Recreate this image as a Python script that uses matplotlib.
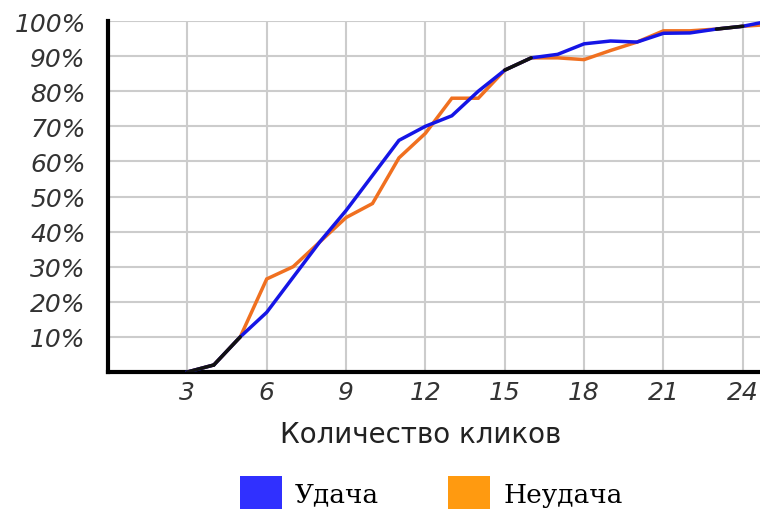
import matplotlib.pyplot as plt
from matplotlib.patches import Patch

clicks = list(range(3, 26))
success = [0, 2, 10, 17, 27, 37, 46, 56, 66, 70, 73, 80, 86, 89.5, 90.5, 93.5, 94.3, 94, 96.5, 96.6, 97.7, 98.5, 100]
failure = [0, 2, 10, 26.5, 30, 37, 44, 48, 61, 68, 78, 78, 86, 89.5, 89.5, 89, 91.6, 94, 97.2, 97.2, 97.7, 98.5, 99]
labels = ['Удача', 'Неудача']
x_ticks = [3, 6, 9, 12, 15, 18, 21, 24]
y_ticks = [10, 20, 30, 40, 50, 60, 70, 80, 90, 100]

fig = plt.figure(figsize=(7.6, 5.1), dpi=100)
ax = fig.add_axes([108 / 760, 137 / 510, 652 / 760, 351 / 510])

ax.plot(clicks, success, color='#1515e6', lw=2.5, solid_joinstyle='miter', zorder=3)
ax.plot(clicks, failure, color='#f07020', lw=2.5, solid_joinstyle='miter', zorder=2)

# where both curves coincide the original shows a dark line
for i in range(len(clicks) - 1):
    if abs(success[i] - failure[i]) < 0.3 and abs(success[i + 1] - failure[i + 1]) < 0.3:
        ax.plot(clicks[i:i + 2], success[i:i + 2], color='#111111', lw=2.5,
                solid_capstyle='round', zorder=4)

ax.set_xlim(0, 24.65)
ax.set_ylim(0, 100)
ax.set_xticks(x_ticks)
ax.set_yticks(y_ticks)
ax.set_yticklabels([f'{v}%' for v in y_ticks])
ax.grid(True, color='#cccccc', lw=1.5)
ax.set_axisbelow(True)
ax.tick_params(length=0, labelsize=18, colors='#333333')
ax.tick_params(axis='y', pad=16)
ax.tick_params(axis='x', pad=6)
for lab in ax.get_xticklabels() + ax.get_yticklabels():
    lab.set_fontstyle('italic')

for side in ['top', 'right']:
    ax.spines[side].set_visible(False)
for side in ['left', 'bottom']:
    ax.spines[side].set_linewidth(3)
    ax.spines[side].set_color('black')

fig.text(421 / 760, 1 - 435 / 510, 'Количество кликов', fontsize=20,
         color='#222222', ha='center', va='center')

handles = [Patch(facecolor='#3030ff', edgecolor='none'),
           Patch(facecolor='#ff9a10', edgecolor='none')]
fig.legend(handles, labels, loc='center', bbox_to_anchor=(431 / 760, 1 - 494 / 510),
           ncol=2, frameon=False, handlelength=1.6, handleheight=1.6,
           handletextpad=0.5, columnspacing=2.6, borderpad=0,
           prop={'family': 'DejaVu Serif', 'size': 19})

fig.savefig('out.png', dpi=100)
